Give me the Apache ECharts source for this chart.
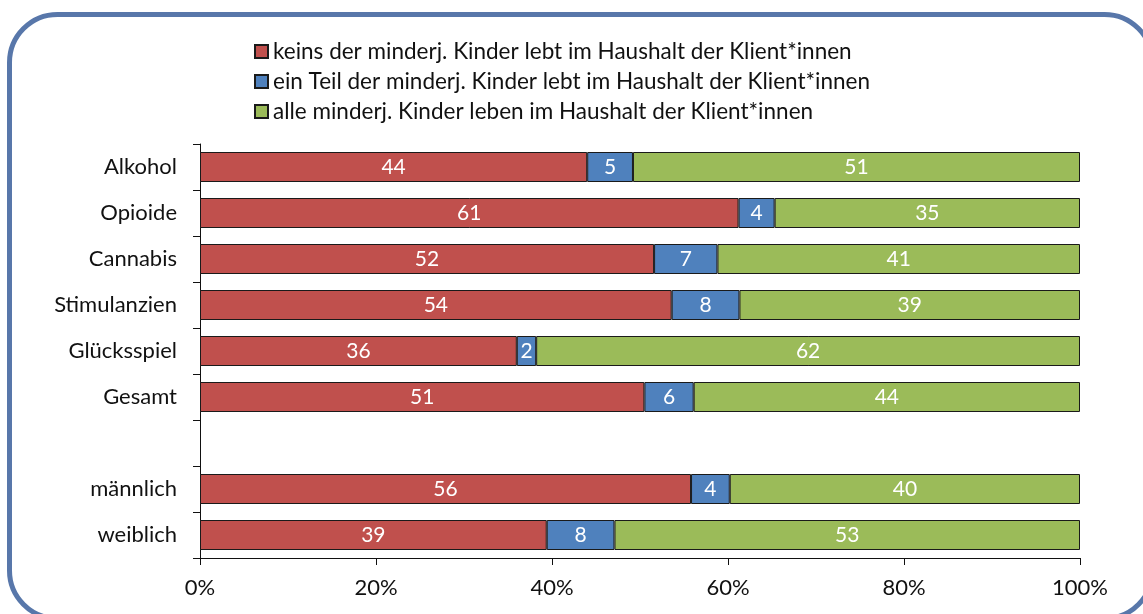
<!DOCTYPE html>
<html>
<head>
<meta charset="utf-8">
<style>
  html, body { margin: 0; padding: 0; background: #fff; }
  #chart { width: 1143px; height: 614px; }
</style>
<script src="https://cdn.jsdelivr.net/npm/echarts@6/dist/echarts.min.js"></script>
</head>
<body>
<div id="chart"></div>
<script>
// Kategorien (von oben nach unten), leere Zeile als Abstand
const categories = ['Alkohol', 'Opioide', 'Cannabis', 'Stimulanzien', 'Glücksspiel', 'Gesamt', '', 'männlich', 'weiblich']

const seriesNames = [
  'keins der minderj. Kinder lebt im Haushalt der Klient*innen',
  'ein Teil der minderj. Kinder lebt im Haushalt der Klient*innen',
  'alle minderj. Kinder leben im Haushalt der Klient*innen'
]

// Anteile in %
const keins = [44.0, 61.2, 51.6, 53.6, 36.0, 50.5, null, 55.8, 39.4]
const teil = [5.2, 4.1, 7.2, 7.7, 2.2, 5.6, null, 4.4, 7.7]
const alle = [50.8, 34.7, 41.2, 38.7, 61.8, 43.9, null, 39.8, 52.9]

const xTicks = [0, 20, 40, 60, 80, 100]

const colors = ['#c0504d', '#4f81bd', '#9bbb59']
const font = 'Lato, "Open Sans", sans-serif'

const chart = echarts.init(document.getElementById('chart'))

const makeSeries = (name, data, i) => ({
  name,
  type: 'bar',
  stack: 'total',
  barWidth: 30,
  data,
  itemStyle: { color: colors[i], borderColor: '#1a1a1a', borderWidth: 1 },
  label: {
    show: true,
    position: 'inside',
    color: '#fff',
    fontFamily: font,
    fontSize: 21,
    formatter: p => (p.value == null ? '' : Math.round(p.value))
  }
})

chart.setOption({
  animation: false,
  textStyle: { fontFamily: font },
  graphic: [{
    type: 'rect',
    shape: { x: 9.5, y: 14.5, width: 1143, height: 604, r: 48 },
    style: { fill: 'none', stroke: '#5877aa', lineWidth: 5 },
    silent: true
  }],
  legend: {
    orient: 'vertical',
    left: 249,
    top: 35,
    itemWidth: 13,
    itemHeight: 13,
    itemGap: 7,
    icon: 'rect',
    textStyle: { fontSize: 22.5, color: '#111', fontFamily: font },
    data: seriesNames
  },
  grid: { left: 200, right: 63, top: 144, bottom: 56 },
  xAxis: {
    type: 'value',
    min: xTicks[0],
    max: xTicks[xTicks.length - 1],
    interval: 20,
    splitLine: { show: false },
    axisLine: { show: true, lineStyle: { color: '#111' } },
    axisTick: { show: true, length: 7, lineStyle: { color: '#111' } },
    axisLabel: { formatter: '{value}%', fontSize: 22, color: '#111', margin: 19, fontFamily: font }
  },
  yAxis: {
    type: 'category',
    inverse: true,
    data: categories,
    axisLine: { show: true, lineStyle: { color: '#111' } },
    axisTick: { show: true, length: 7, lineStyle: { color: '#111' } },
    axisLabel: { fontSize: 22, color: '#111', margin: 23, fontFamily: font }
  },
  series: [
    makeSeries(seriesNames[0], keins, 0),
    makeSeries(seriesNames[1], teil, 1),
    makeSeries(seriesNames[2], alle, 2)
  ]
})

window.addEventListener('resize', () => chart.resize())
</script>
</body>
</html>
